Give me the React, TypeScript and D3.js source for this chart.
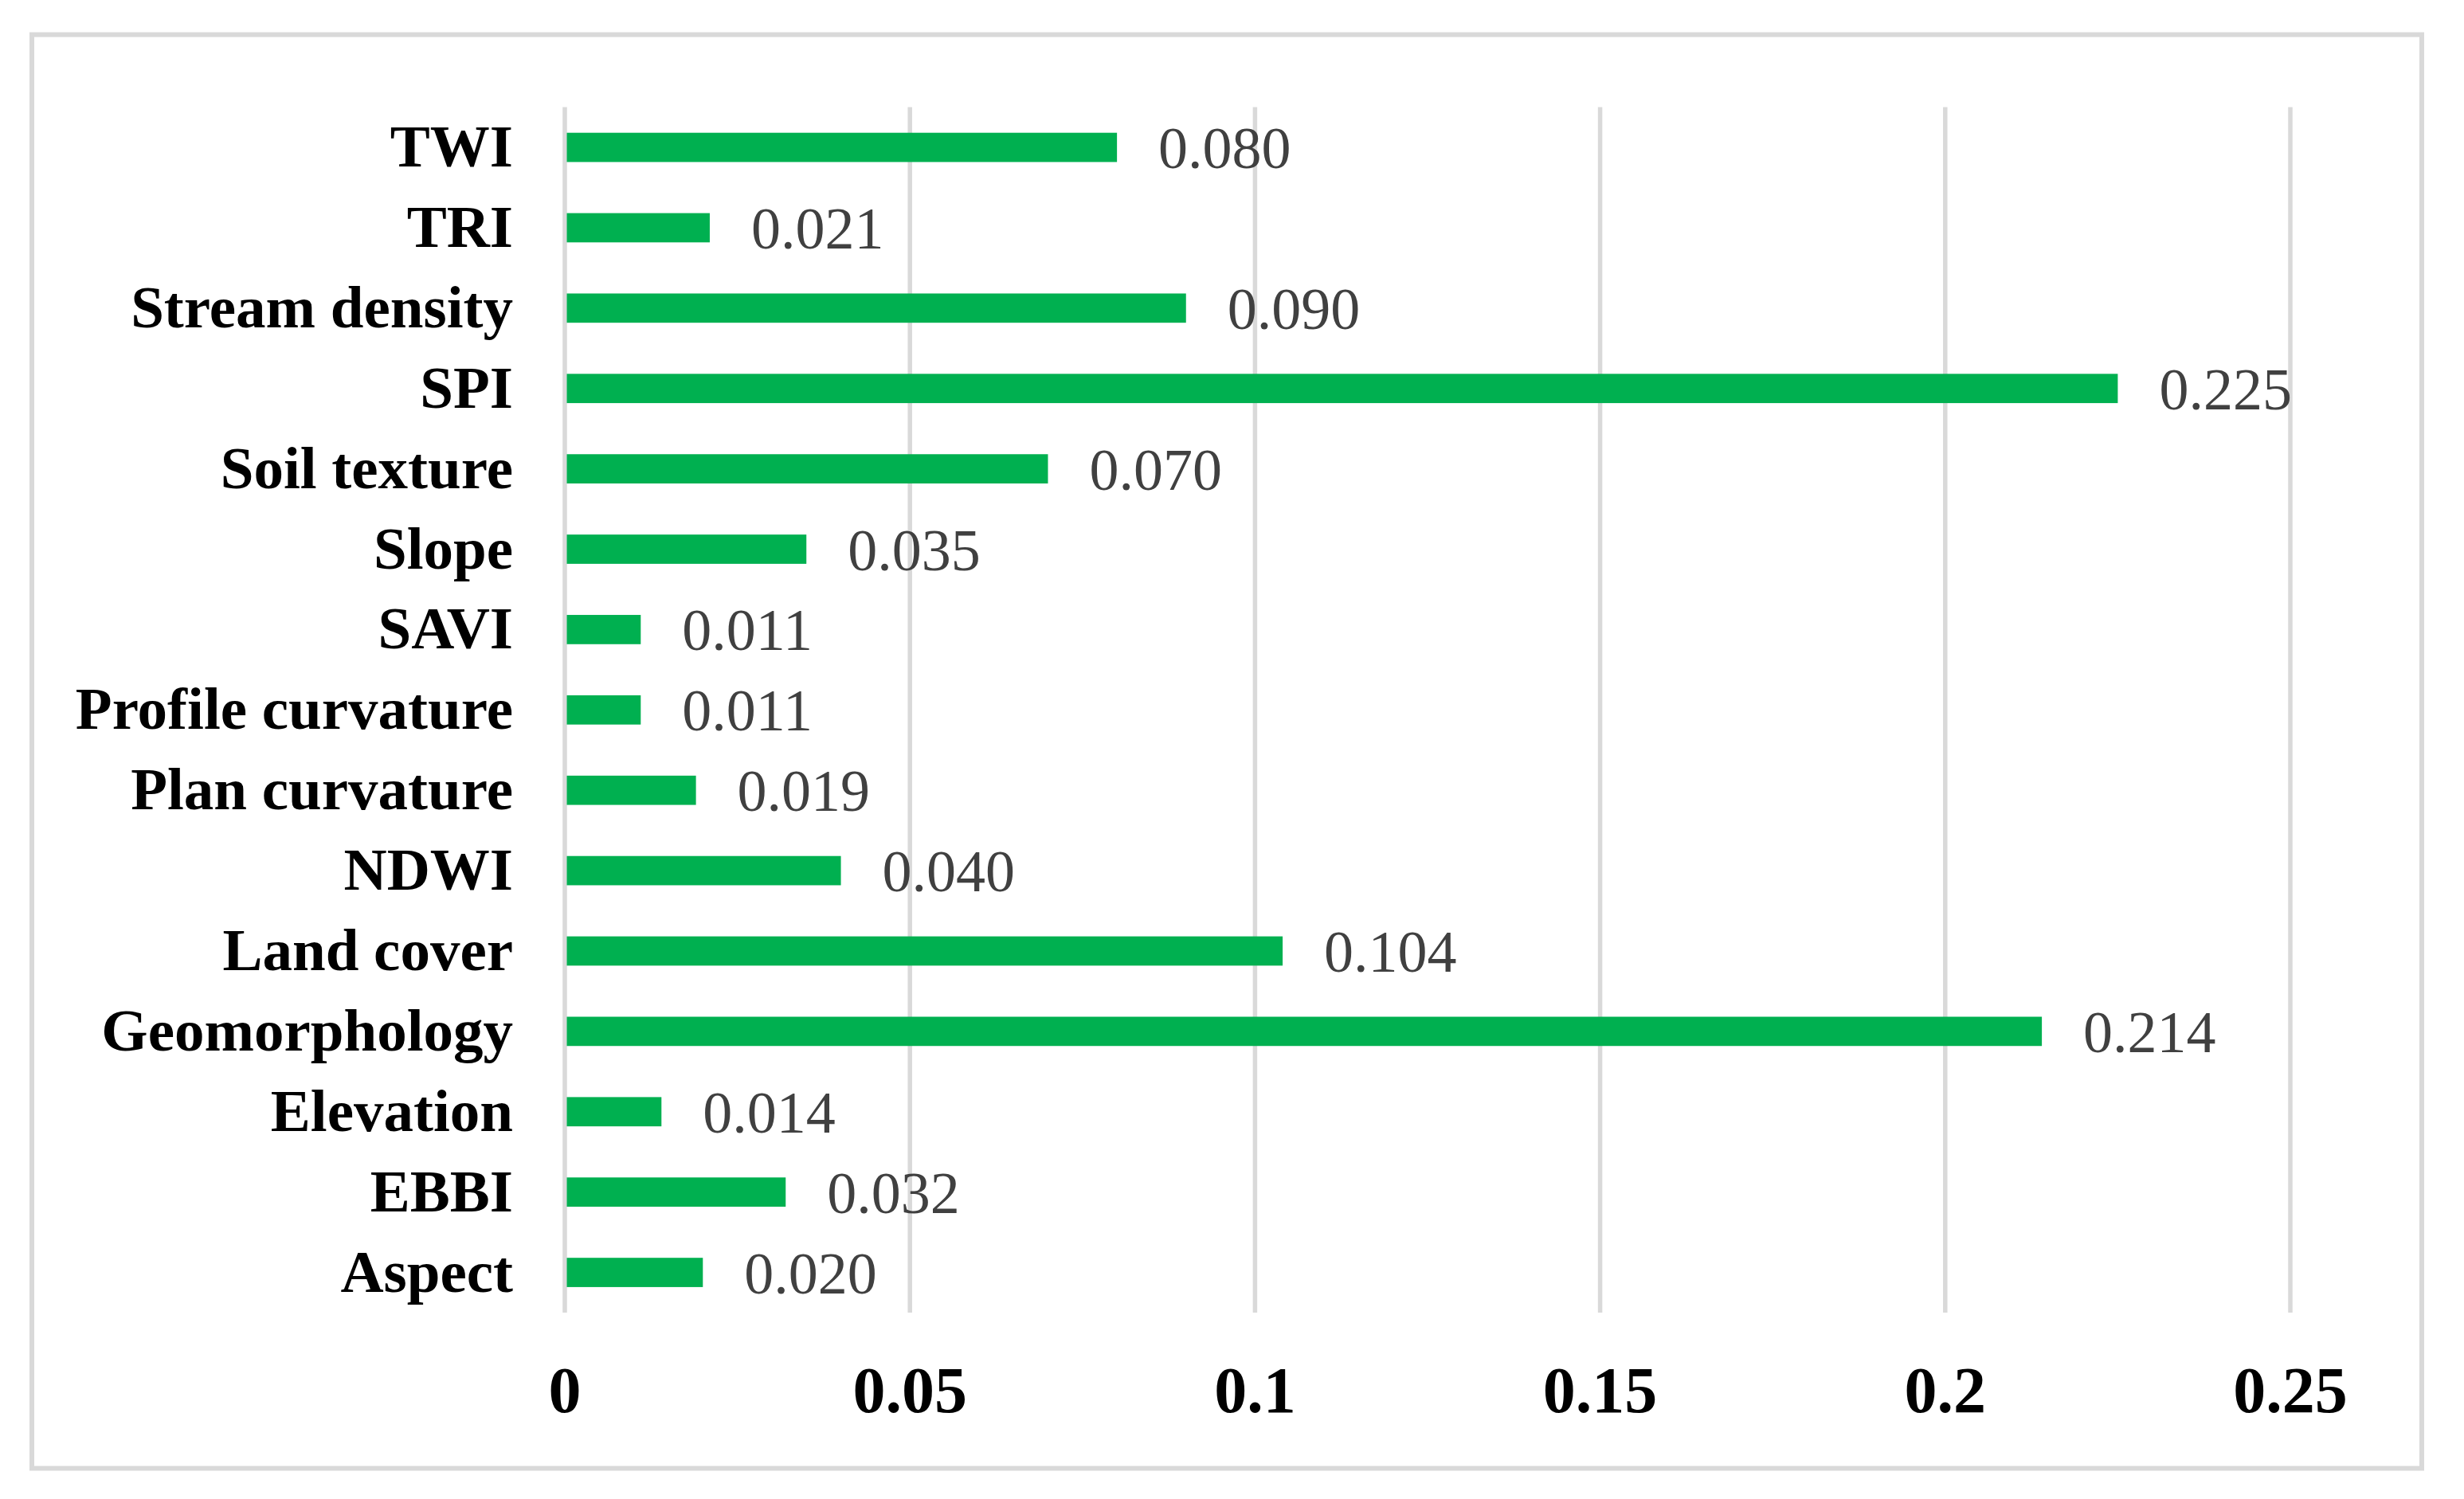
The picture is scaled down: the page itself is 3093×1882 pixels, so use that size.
import React from "react";
import * as d3 from "d3";

const categories = [
  "TWI", "TRI", "Stream density", "SPI", "Soil texture", "Slope", "SAVI",
  "Profile curvature", "Plan curvature", "NDWI", "Land cover", "Geomorphology",
  "Elevation", "EBBI", "Aspect",
];
const values = [
  0.080, 0.021, 0.090, 0.225, 0.070, 0.035, 0.011, 0.011, 0.019, 0.040, 0.104,
  0.214, 0.014, 0.032, 0.020,
];
const valueLabels = [
  "0.080", "0.021", "0.090", "0.225", "0.070", "0.035", "0.011", "0.011",
  "0.019", "0.040", "0.104", "0.214", "0.014", "0.032", "0.020",
];
const xTicks = [0, 0.05, 0.1, 0.15, 0.2, 0.25];
const xTickLabels = ["0", "0.05", "0.1", "0.15", "0.2", "0.25"];

const W = 3093;
const H = 1882;
const FONT = "'Liberation Serif', 'Times New Roman', serif";

export default function App() {
  const x = d3.scaleLinear().domain([0, 0.25]).range([709, 2875]);
  const y = d3
    .scaleBand<string>()
    .domain(categories)
    .range([134.6, 1648])
    .paddingInner(0.636)
    .paddingOuter(0.318);
  const step = y.step();
  const bh = y.bandwidth();

  return (
    <svg
      width={W}
      height={H}
      style={{ position: "absolute", left: 0, top: 0, background: "#fff" }}
    >
      <rect x={0} y={0} width={W} height={H} fill="#fff" />
      <rect
        x={40}
        y={43.5}
        width={3000}
        height={1800}
        fill="#fff"
        stroke="#d9d9d9"
        strokeWidth={6}
      />
      {xTicks.map((t, i) => (
        <line
          key={"g" + i}
          x1={x(t)}
          x2={x(t)}
          y1={134.6}
          y2={1648}
          stroke="#d9d9d9"
          strokeWidth={5.5}
        />
      ))}
      {categories.map((c, i) => {
        const yy = y(c)!;
        const cy = yy + bh / 2;
        return (
          <g key={c}>
            <rect
              x={x(0) + 2.5}
              y={yy}
              width={x(values[i]) - x(0) - 2.5}
              height={bh}
              fill="#00b050"
            />
            <text
              x={644}
              y={cy + 24}
              textAnchor="end"
              fontFamily={FONT}
              fontWeight="bold"
              fontSize={75}
              fill="#000"
            >
              {c}
            </text>
            <text
              x={x(values[i]) + 52}
              y={cy + 26}
              fontFamily={FONT}
              fontSize={74}
              fill="#404040"
            >
              {valueLabels[i]}
            </text>
          </g>
        );
      })}
      {xTicks.map((t, i) => (
        <text
          key={"t" + i}
          x={x(t)}
          y={1773}
          textAnchor="middle"
          fontFamily={FONT}
          fontWeight="bold"
          fontSize={82}
          fill="#000"
        >
          {xTickLabels[i]}
        </text>
      ))}
    </svg>
  );
}
